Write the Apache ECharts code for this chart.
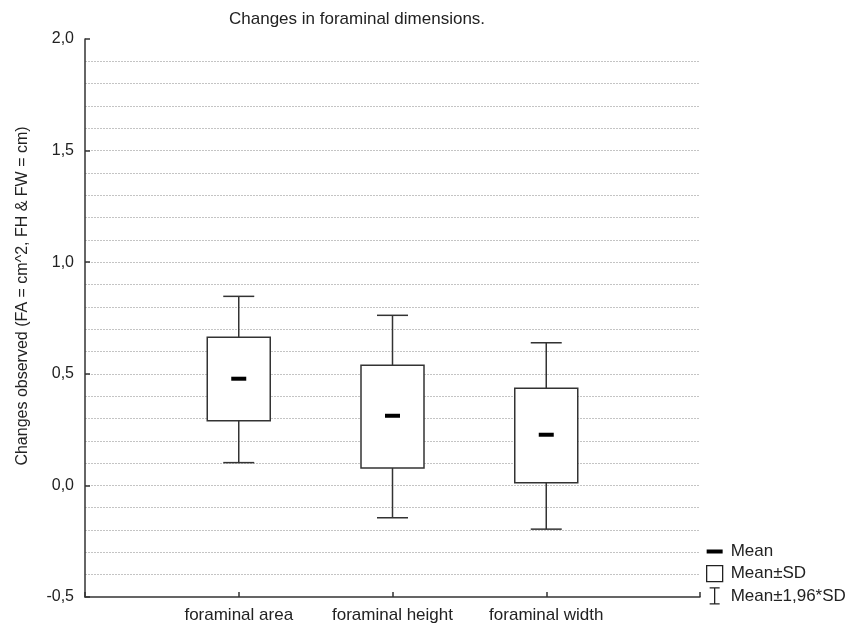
<!DOCTYPE html>
<html>
<head>
<meta charset="utf-8">
<script src="https://cdn.jsdelivr.net/npm/echarts@6/dist/echarts.min.js"></script>
<style>html,body{margin:0;padding:0;background:#fff}#c{width:860px;height:628px}</style>
</head>
<body>
<div id="c"></div>
<script>
var categories = ['foraminal area', 'foraminal height', 'foraminal width'];
var means = [0.478, 0.312, 0.227];
var sdLow = [0.290, 0.078, 0.012];
var sdHigh = [0.664, 0.538, 0.435];
var ciLow = [0.102, -0.145, -0.196];
var ciHigh = [0.847, 0.762, 0.639];
var yTicks = [-0.5, 0.0, 0.5, 1.0, 1.5, 2.0];

var chart = echarts.init(document.getElementById('c'));
var FONT = 'Liberation Sans, Arial, sans-serif';
var INK = '#222';

var whiskerData = categories.map(function (c, i) { return [i + 1, ciLow[i], ciHigh[i]]; });
var boxData = categories.map(function (c, i) { return [i + 1, sdLow[i], sdHigh[i]]; });
var meanData = categories.map(function (c, i) { return [i + 1, means[i]]; });

function fmtY(v) {
  var r = Math.round(v * 10) / 10;
  return r.toFixed(1).replace('.', ',');
}

chart.setOption({
  animation: false,
  backgroundColor: '#fff',
  textStyle: { fontFamily: FONT },
  title: {
    text: 'Changes in foraminal dimensions.',
    left: 229, top: 11, padding: 0,
    textStyle: { fontSize: 17, fontWeight: 'normal', color: INK, fontFamily: FONT }
  },
  legend: {
    orient: 'vertical',
    left: 706, top: 543,
    padding: 0,
    itemWidth: 16, itemHeight: 16, itemGap: 5,
    selectedMode: false,
    textStyle: { fontSize: 17, color: INK, fontFamily: FONT, padding: [0, 0, 0, 3] },
    data: [
      { name: 'Mean', icon: 'path://M0,0H16V4H0Z', itemStyle: { color: '#000', borderWidth: 0 } },
      { name: 'Mean±SD', icon: 'path://M0,0H16V16H0Z', itemStyle: { color: '#fff', borderColor: '#222', borderWidth: 1.3 } },
      { name: 'Mean±1,96*SD', icon: 'path://M0,0H10M5,0V16M0,16H10', itemStyle: { color: 'rgba(0,0,0,0)', borderColor: '#222', borderWidth: 1.3 } }
    ]
  },
  grid: { left: 85, right: 160, top: 39, bottom: 31, containLabel: false },
  xAxis: {
    type: 'value', min: 0, max: 4, interval: 1,
    axisLine: { show: true, onZero: false, lineStyle: { color: '#333', width: 1.5 } },
    axisTick: { show: true, inside: true, length: 5, lineStyle: { color: '#333', width: 1.5 } },
    axisLabel: {
      margin: 10, fontSize: 17, color: INK, fontFamily: FONT,
      formatter: function (v) { return categories[v - 1] || ''; }
    },
    splitLine: { show: false }
  },
  yAxis: {
    type: 'value', min: yTicks[0], max: yTicks[yTicks.length - 1], interval: 0.5,
    name: 'Changes observed (FA = cm^2, FH & FW = cm)',
    nameLocation: 'middle', nameGap: 54,
    nameTextStyle: { fontSize: 16, color: INK, fontFamily: FONT, padding: [0, 0, 0, 44] },
    axisLine: { show: true, onZero: false, lineStyle: { color: '#333', width: 1.5 } },
    axisTick: { show: true, inside: true, length: 5, lineStyle: { color: '#333', width: 1.5 } },
    axisLabel: { margin: 11, fontSize: 16, color: INK, fontFamily: FONT, formatter: fmtY },
    splitLine: { show: true, showMaxLine: false, showMinLine: false, lineStyle: { color: '#c4c4c4', type: [2, 1], width: 1 } },
    minorTick: { show: false, splitNumber: 5 },
    minorSplitLine: { show: true, lineStyle: { color: '#c4c4c4', type: [2, 1], width: 1 } }
  },
  series: [
    {
      name: 'Mean±1,96*SD', type: 'custom',
      itemStyle: { color: 'rgba(0,0,0,0)', borderColor: '#222' },
      encode: { x: 0, y: [1, 2] },
      data: whiskerData,
      renderItem: function (params, api) {
        var x = api.value(0);
        var lo = api.coord([x, api.value(1)]);
        var hi = api.coord([x, api.value(2)]);
        var hw = 15.5;
        var st = { stroke: '#333', lineWidth: 1.5, fill: null };
        return {
          type: 'group',
          children: [
            { type: 'line', shape: { x1: lo[0], y1: lo[1], x2: hi[0], y2: hi[1] }, style: st },
            { type: 'line', shape: { x1: hi[0] - hw, y1: hi[1], x2: hi[0] + hw, y2: hi[1] }, style: st },
            { type: 'line', shape: { x1: lo[0] - hw, y1: lo[1], x2: lo[0] + hw, y2: lo[1] }, style: st }
          ]
        };
      }
    },
    {
      name: 'Mean±SD', type: 'custom',
      itemStyle: { color: '#fff', borderColor: '#222' },
      encode: { x: 0, y: [1, 2] },
      data: boxData,
      renderItem: function (params, api) {
        var x = api.value(0);
        var lo = api.coord([x, api.value(1)]);
        var hi = api.coord([x, api.value(2)]);
        var hw = 31.5;
        return {
          type: 'rect',
          shape: { x: lo[0] - hw, y: hi[1], width: hw * 2, height: lo[1] - hi[1] },
          style: { fill: '#fff', stroke: '#333', lineWidth: 1.5 }
        };
      }
    },
    {
      name: 'Mean', type: 'custom',
      itemStyle: { color: '#000' },
      encode: { x: 0, y: 1 },
      data: meanData,
      renderItem: function (params, api) {
        var p = api.coord([api.value(0), api.value(1)]);
        return {
          type: 'rect',
          shape: { x: p[0] - 7.5, y: p[1] - 2, width: 15, height: 4 },
          style: { fill: '#000' }
        };
      }
    }
  ]
});
</script>
</body>
</html>
